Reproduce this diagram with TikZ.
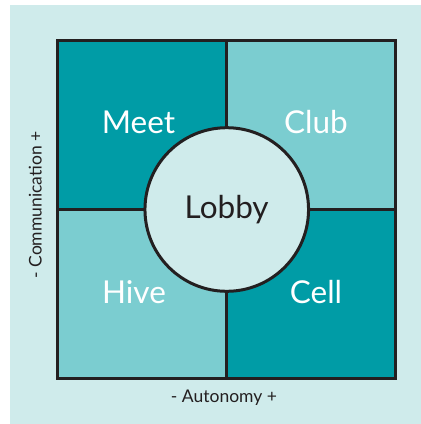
\documentclass[tikz,border=0pt]{standalone}
\usepackage{fontspec}
\setmainfont{Lato}
\usetikzlibrary{positioning}
\definecolor{tealdark}{RGB}{0,156,166}
\definecolor{teallight}{RGB}{123,205,208}
\definecolor{tealpale}{RGB}{207,235,235}
\definecolor{edgecol}{RGB}{35,31,32}
\tikzset{
quadstyle/.style={
  rectangle,
  line width=3pt,
  minimum width=169pt,
  minimum height=169pt,
  inner sep=0pt,
  outer sep=0pt,
  draw=edgecol,
  }
}
\tikzset{
quadtext/.style={
  text=white,
  inner sep=0pt,
  anchor=base,
  font=\fontsize{31.5}{36}\selectfont,
  }
}
\tikzset{
axistext/.style={
  text=edgecol,
  inner sep=0pt,
  anchor=base,
  font=\fontsize{17.5}{20}\selectfont,
  }
}

\begin{document}
\begin{tikzpicture}[x=1pt,y=-1pt]
    \useasboundingbox (0,0) rectangle (421,424);
    \path [fill=tealpale] (10,5) rectangle (421,424);

    % quadrants
    \node[quadstyle, fill=tealdark] (meet) at (142.25,125) {};
    \node[quadstyle, fill=teallight, right=0pt of meet] (club) {};
    \node[quadstyle, fill=teallight, below=0pt of meet] (hive) {};
    \node[quadstyle, fill=tealdark, right=0pt of hive] (cell) {};

    % centre
    \node[circle, line width=3pt, inner sep=0pt, outer sep=0pt, minimum size=163.6pt,
          draw=edgecol, fill=tealpale] (lobby) at (226.75,209.5) {};

    % labels
    \node[quadtext] (meet_txt) at (138.5,133.3) {Meet};
    \node[quadtext] (club_txt) at (316,133.3) {Club};
    \node[quadtext] (hive_txt) at (134,303.3) {Hive};
    \node[quadtext] (cell_txt) at (316,303.3) {Cell};
    \node[quadtext, text=edgecol] (lobby_txt) at (226.7,218.3) {Lobby};

    % axes
    \node[axistext] (aut) at (224,402.3) {- Autonomy +};
    \node[axistext, rotate=90] (comm) at (41.7,205) {- Communication +};
\end{tikzpicture}
\end{document}
